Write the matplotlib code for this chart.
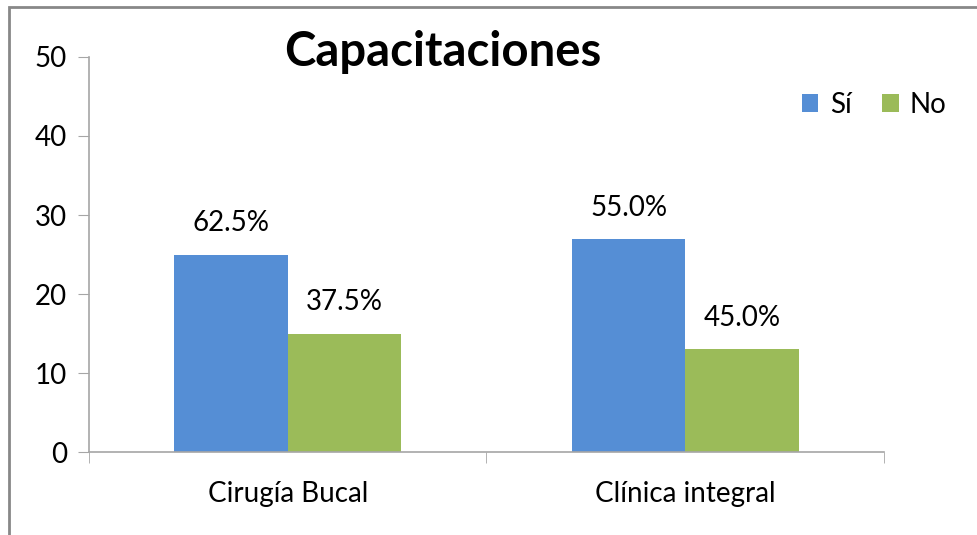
import matplotlib
matplotlib.use("Agg")
import matplotlib.pyplot as plt
import numpy as np
from matplotlib.patches import Rectangle

plt.rcParams["font.family"] = ["Lato", "DejaVu Sans"]

# ── data ──────────────────────────────────────────────
categories = ["Cirugía Bucal", "Clínica integral"]
si_values = [25, 27]
no_values = [15, 13]
si_labels = ["62.5%", "55.0%"]
no_labels = ["37.5%", "45.0%"]

BLUE = "#558ed5"
GREEN = "#9bbb59"
AXIS = "#a6a6a6"

fig = plt.figure(figsize=(9.77, 5.35), dpi=100)
ax = fig.add_axes([0.0911, 0.155, 0.8137, 0.7385])

x = np.arange(len(categories))
w = 0.285
ax.bar(x - w / 2, si_values, w, color=BLUE, label="Sí")
ax.bar(x + w / 2, no_values, w, color=GREEN, label="No")

for i in range(len(categories)):
    ax.annotate(si_labels[i], (x[i] - w / 2, si_values[i]), xytext=(0, 13),
                textcoords="offset points", ha="center", va="bottom", fontsize=20)
    ax.annotate(no_labels[i], (x[i] + w / 2, no_values[i]), xytext=(0, 13),
                textcoords="offset points", ha="center", va="bottom", fontsize=20)

ax.set_ylim(0, 50)
ax.set_xlim(-0.5, len(categories) - 0.5)
ax.set_yticks(range(0, 51, 10))
ax.set_xticks(x)
ax.set_xticklabels(categories, fontsize=20)
ax.set_xticks(np.arange(-0.5, len(categories), 1.0), minor=True)
ax.tick_params(axis="x", which="major", length=0, pad=21)
ax.tick_params(axis="x", which="minor", length=8, color=AXIS, direction="out")
ax.tick_params(axis="y", length=8, color=AXIS, labelsize=20, pad=8)

for s in ["top", "right"]:
    ax.spines[s].set_visible(False)
for s in ["left", "bottom"]:
    ax.spines[s].set_color(AXIS)
    ax.spines[s].set_linewidth(1.2)

fig.text(0.453, 0.903, "Capacitaciones", ha="center", va="center",
         fontsize=34, fontweight="bold")

ax.legend(loc="upper right", bbox_to_anchor=(1.11, 0.975), ncol=2, frameon=False,
          fontsize=20, handlelength=0.6, handleheight=0.6, handletextpad=0.4,
          columnspacing=1.1)

# outer chart border (cropped on the right and bottom)
fig.patches.append(Rectangle((9 / 977, -0.1), 1.2, 1 - 7 / 535 + 0.1,
                             transform=fig.transFigure, fill=False,
                             edgecolor="#888888", linewidth=2))

fig.savefig("out.png", dpi=100)
